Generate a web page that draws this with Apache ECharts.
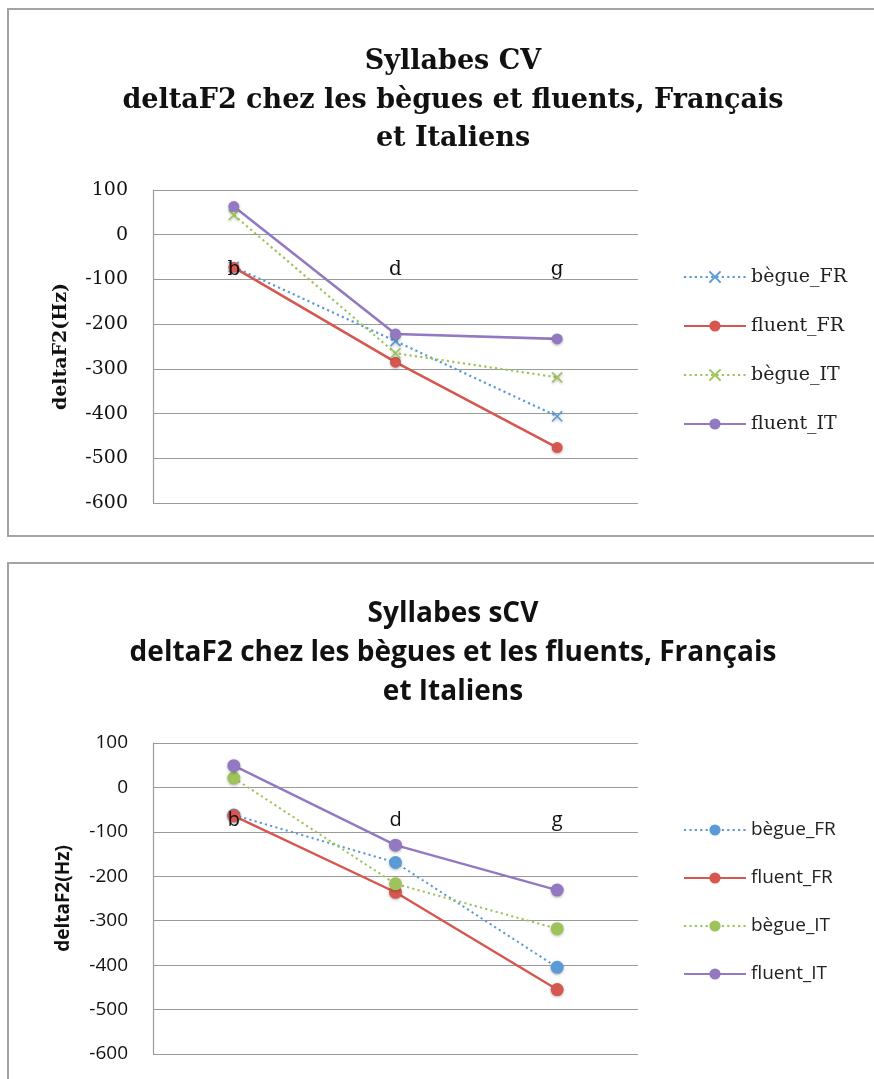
<!DOCTYPE html>
<html lang="fr">
<head>
    <meta charset="UTF-8">
    <title>deltaF2 - Syllabes CV / sCV</title>
    <style>
        html, body { margin: 0; padding: 0; background: #fff; }
        #chartCV { position: absolute; left: 0; top: 0; width: 874px; height: 545px; }
        #chartSCV { position: absolute; left: 0; top: 545px; width: 874px; height: 534px; }
    </style>
</head>
<body>
<div id="chartCV"></div>
<div id="chartSCV"></div>
<script src="https://cdn.jsdelivr.net/npm/echarts@6/dist/echarts.min.js"></script>
<script>
    // categories (consonne)
    var categories = ['b', 'd', 'g'];
    var seriesNames = ['bègue_FR', 'fluent_FR', 'bègue_IT', 'fluent_IT'];
    var yTicks = [100, 0, -100, -200, -300, -400, -500, -600];

    // Syllabes CV
    var cvBegueFR = [-72, -238, -406];
    var cvFluentFR = [-73, -285, -476];
    var cvBegueIT = [44, -265, -319];
    var cvFluentIT = [63, -222, -233];

    // Syllabes sCV
    var scvBegueFR = [-62, -169, -405];
    var scvFluentFR = [-64, -236, -455];
    var scvBegueIT = [21, -217, -318];
    var scvFluentIT = [49, -130, -231];

    var colors = ['#5b9bd5', '#d6574f', '#9dc35a', '#9379c1'];
    var crossPath = 'path://M0,0L10,10M10,0L0,10';

    var yMin = yTicks[yTicks.length - 1],
        yMax = yTicks[0];

    function makeSeries(name, data, color, dotted, symbol, symbolSize, width) {
        return {
            name: name,
            type: 'line',
            data: data,
            symbol: symbol,
            symbolSize: symbolSize,
            showSymbol: true,
            z: 3,
            lineStyle: {
                color: color,
                width: width,
                type: dotted ? [2.2, 3.2] : 'solid'
            },
            itemStyle: {
                color: symbol === 'circle' ? color : 'none',
                borderColor: color,
                borderWidth: symbol === 'circle' ? 0 : 1.6,
                shadowBlur: 3,
                shadowColor: 'rgba(0,0,0,0.3)',
                shadowOffsetY: 1
            },
            emphasis: {disabled: true}
        };
    }

    function makeOption(cfg) {
        // the category labels sit under the value 0 line (like in Excel)
        var zeroOffset = -cfg.gridHeight * (0 - yMin) / (yMax - yMin);
        return {
            animation: false,
            graphic: [{
                type: 'rect',
                shape: {x: 8, y: cfg.boxTop, width: 900, height: cfg.boxHeight},
                style: {fill: 'none', stroke: '#a3a3a3', lineWidth: 2},
                silent: true
            }],
            title: {
                text: cfg.title,
                left: 448,
                top: cfg.titleTop,
                textAlign: 'center',
                textStyle: {
                    fontFamily: cfg.titleFont,
                    fontSize: cfg.titleSize,
                    fontWeight: 'bold',
                    lineHeight: cfg.titleLineHeight,
                    color: '#111'
                }
            },
            legend: {
                orient: 'vertical',
                left: 683,
                top: cfg.legendTop,
                padding: 0,
                itemWidth: 62,
                itemHeight: 14,
                itemGap: cfg.legendGap,
                data: seriesNames,
                textStyle: {fontFamily: cfg.font, fontSize: cfg.legendSize, lineHeight: 22, color: '#222'}
            },
            grid: {left: 153, top: cfg.gridTop, width: 485, height: cfg.gridHeight, outerBoundsMode: 'none'},
            xAxis: {
                type: 'category',
                data: categories,
                position: 'bottom',
                offset: zeroOffset,
                axisLine: {show: false, onZero: false},
                axisTick: {show: false},
                axisLabel: {
                    margin: cfg.catMargin,
                    fontFamily: cfg.font,
                    fontSize: 20,
                    color: '#111'
                },
                splitLine: {show: false},
                z: 5
            },
            yAxis: {
                type: 'value',
                min: yMin,
                max: yMax,
                interval: 100,
                name: 'deltaF2(Hz)',
                nameLocation: 'middle',
                nameGap: cfg.nameGap,
                nameRotate: 90,
                nameTextStyle: {
                    fontFamily: cfg.nameFont,
                    fontSize: 19,
                    fontWeight: 'bold',
                    color: '#111'
                },
                axisLine: {show: true, lineStyle: {color: '#9a9a9a', width: 1.2}},
                axisTick: {show: false},
                axisLabel: {
                    margin: 25,
                    fontFamily: cfg.font,
                    fontSize: cfg.ySize,
                    color: '#111'
                },
                splitLine: {lineStyle: {color: '#9a9a9a', width: 1.2}}
            },
            series: cfg.series
        };
    }

    var chartCV = echarts.init(document.getElementById('chartCV'));
    chartCV.setOption(makeOption({
        boxTop: 9, boxHeight: 527,
        title: 'Syllabes CV\ndeltaF2 chez les bègues et fluents, Français\net Italiens',
        titleTop: 38, titleSize: 27, titleLineHeight: 38.5,
        titleFont: '"DejaVu Serif", serif',
        font: '"DejaVu Serif", serif',
        nameFont: '"DejaVu Serif", serif',
        ySize: 19, legendSize: 19,
        legendTop: 266, legendGap: 27,
        gridTop: 190, gridHeight: 313,
        catMargin: 25, nameGap: 82,
        series: [
            makeSeries(seriesNames[0], cvBegueFR, colors[0], true, crossPath, 10, 2.2),
            makeSeries(seriesNames[1], cvFluentFR, colors[1], false, 'circle', 11, 2.6),
            makeSeries(seriesNames[2], cvBegueIT, colors[2], true, crossPath, 10, 2.2),
            makeSeries(seriesNames[3], cvFluentIT, colors[3], false, 'circle', 11, 2.6)
        ]
    }));

    var chartSCV = echarts.init(document.getElementById('chartSCV'));
    chartSCV.setOption(makeOption({
        boxTop: 18, boxHeight: 600,
        title: 'Syllabes sCV\ndeltaF2 chez les bègues et les fluents, Français\net Italiens',
        titleTop: 45, titleSize: 28, titleLineHeight: 39,
        titleFont: '"Open Sans", sans-serif',
        font: '"Open Sans", sans-serif',
        nameFont: '"Open Sans", sans-serif',
        ySize: 19, legendSize: 19,
        legendTop: 274, legendGap: 26,
        gridTop: 198, gridHeight: 311,
        catMargin: 23, nameGap: 80,
        series: [
            makeSeries(seriesNames[0], scvBegueFR, colors[0], true, 'circle', 13, 2),
            makeSeries(seriesNames[1], scvFluentFR, colors[1], false, 'circle', 13, 2.4),
            makeSeries(seriesNames[2], scvBegueIT, colors[2], true, 'circle', 13, 2),
            makeSeries(seriesNames[3], scvFluentIT, colors[3], false, 'circle', 13, 2.4)
        ]
    }));
</script>
</body>
</html>
